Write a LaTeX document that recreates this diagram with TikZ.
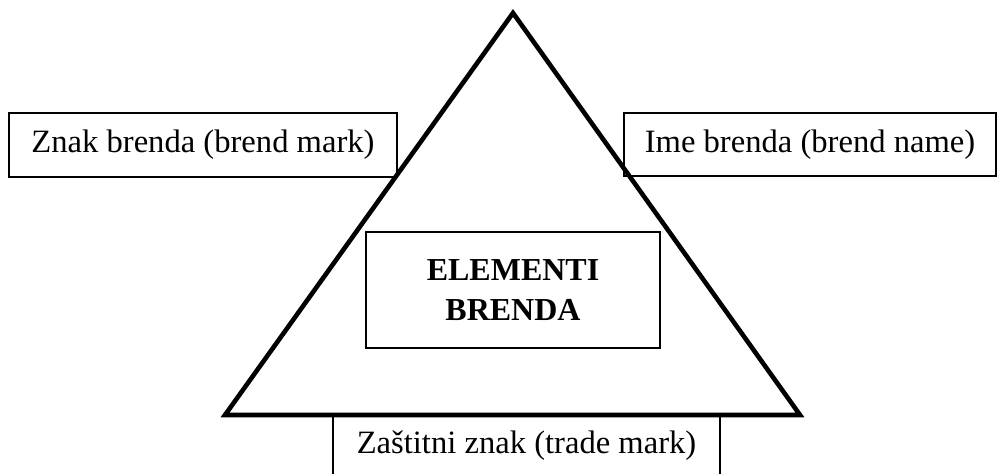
\documentclass[tikz,border=0pt]{standalone}
\usepackage{fontspec}
\setmainfont{Liberation Serif}

\begin{document}
\begin{tikzpicture}[x=0.5pt, y=-0.5pt]
    \tikzset{
        box/.style={draw, line width=1pt, inner sep=0pt, font=\fontsize{16.3}{20}\selectfont},
        side/.style={line width=2.3pt, line join=miter},
    }
    \useasboundingbox (0,0) rectangle (1001,474);
    % triangle
    \coordinate (apex) at (513,13);
    \coordinate (bl) at (225,415);
    \coordinate (br) at (800,415);
    \draw[side] (apex) -- (bl) -- (br) -- cycle;
    % boxes round it
    \node[box, minimum width=194pt, minimum height=32pt] (mark) at (203,145) {Znak brenda (brend mark)};
    \node[box, minimum width=186pt, minimum height=31.5pt] (name) at (810,144.5) {Ime brenda (brend name)};
    \node[box, minimum width=147pt, minimum height=58pt, align=center, font=\fontsize{16}{20}\selectfont\bfseries] (elem) at (513,290) {ELEMENTI\\BRENDA};
    \node[box, line width=1.3pt, minimum width=193.5pt, minimum height=30.5pt] (trade) at (526.5,445.5) {Zaštitni znak (trade mark)};
\end{tikzpicture}
\end{document}
